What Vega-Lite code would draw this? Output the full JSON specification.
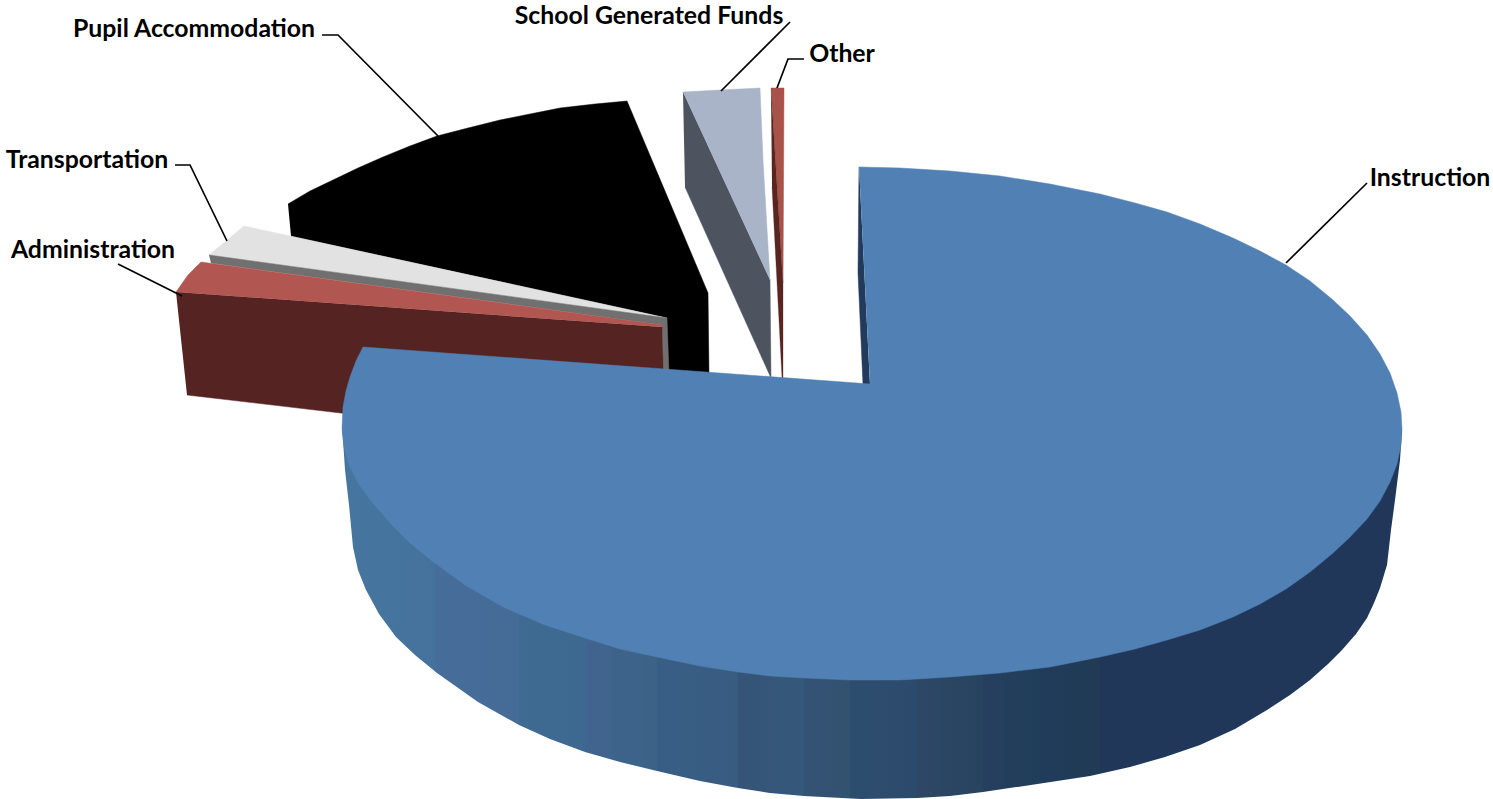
{
"$schema":"https://vega.github.io/schema/vega-lite/v6.json",
"autosize":{"type":"fit","contains":"padding"},
"width":1493,"height":799,"padding":0,
"background":"white",
"config":{"view":{"stroke":null}},
"datasets":{
"outlines":[
{"shape":"pupil","i":0,"x":288,"y":204},{"shape":"pupil","i":1,"x":310,"y":191},{"shape":"pupil","i":2,"x":333,"y":180},{"shape":"pupil","i":3,"x":358,"y":168},{"shape":"pupil","i":4,"x":383,"y":157},{"shape":"pupil","i":5,"x":410,"y":146},{"shape":"pupil","i":6,"x":437,"y":136},{"shape":"pupil","i":7,"x":468,"y":128},{"shape":"pupil","i":8,"x":500,"y":120},{"shape":"pupil","i":9,"x":530,"y":114},{"shape":"pupil","i":10,"x":560,"y":108},{"shape":"pupil","i":11,"x":595,"y":104},{"shape":"pupil","i":12,"x":627,"y":101},{"shape":"pupil","i":13,"x":708,"y":293},{"shape":"pupil","i":14,"x":709,"y":376},{"shape":"pupil","i":15,"x":660,"y":376},{"shape":"pupil","i":16,"x":667,"y":318},{"shape":"pupil","i":17,"x":291,"y":236},
{"shape":"transport_top","i":0,"x":209,"y":255},{"shape":"transport_top","i":1,"x":244,"y":226},{"shape":"transport_top","i":2,"x":667,"y":318},
{"shape":"transport_side","i":0,"x":209,"y":255},{"shape":"transport_side","i":1,"x":667,"y":318},{"shape":"transport_side","i":2,"x":669,"y":374},{"shape":"transport_side","i":3,"x":663,"y":374},{"shape":"transport_side","i":4,"x":662,"y":325},{"shape":"transport_side","i":5,"x":211,"y":263},
{"shape":"admin_side","i":0,"x":176,"y":292},{"shape":"admin_side","i":1,"x":662,"y":327},{"shape":"admin_side","i":2,"x":663,"y":374},{"shape":"admin_side","i":3,"x":400,"y":420},{"shape":"admin_side","i":4,"x":187,"y":395},
{"shape":"admin_top","i":0,"x":176,"y":292},{"shape":"admin_top","i":1,"x":188,"y":275},{"shape":"admin_top","i":2,"x":201,"y":262},{"shape":"admin_top","i":3,"x":662,"y":325},{"shape":"admin_top","i":4,"x":662,"y":327},
{"shape":"school_side","i":0,"x":683,"y":92},{"shape":"school_side","i":1,"x":770,"y":280},{"shape":"school_side","i":2,"x":771,"y":378},{"shape":"school_side","i":3,"x":685,"y":187},
{"shape":"school_top","i":0,"x":683,"y":92},{"shape":"school_top","i":1,"x":720,"y":90},{"shape":"school_top","i":2,"x":760,"y":88},{"shape":"school_top","i":3,"x":763,"y":160},{"shape":"school_top","i":4,"x":770,"y":280},
{"shape":"other_side","i":0,"x":771,"y":88},{"shape":"other_side","i":1,"x":783,"y":283},{"shape":"other_side","i":2,"x":783,"y":378},{"shape":"other_side","i":3,"x":782,"y":378},{"shape":"other_side","i":4,"x":772,"y":187},
{"shape":"other_top","i":0,"x":771,"y":88},{"shape":"other_top","i":1,"x":784,"y":88},{"shape":"other_top","i":2,"x":783,"y":283},
{"shape":"instruction_cut","i":0,"x":859,"y":167},{"shape":"instruction_cut","i":1,"x":858,"y":273},{"shape":"instruction_cut","i":2,"x":863,"y":385},{"shape":"instruction_cut","i":3,"x":870,"y":385},
{"shape":"instruction_side","i":0,"x":342,"y":430},{"shape":"instruction_side","i":1,"x":343,"y":440},{"shape":"instruction_side","i":2,"x":345,"y":470},{"shape":"instruction_side","i":3,"x":349,"y":505},{"shape":"instruction_side","i":4,"x":353,"y":547},{"shape":"instruction_side","i":5,"x":358,"y":570},{"shape":"instruction_side","i":6,"x":366,"y":590},{"shape":"instruction_side","i":7,"x":379,"y":614},{"shape":"instruction_side","i":8,"x":396,"y":637},{"shape":"instruction_side","i":9,"x":415,"y":655},{"shape":"instruction_side","i":10,"x":437,"y":673},{"shape":"instruction_side","i":11,"x":478,"y":702},{"shape":"instruction_side","i":12,"x":519,"y":725},{"shape":"instruction_side","i":13,"x":550,"y":739},{"shape":"instruction_side","i":14,"x":585,"y":752},{"shape":"instruction_side","i":15,"x":620,"y":762},{"shape":"instruction_side","i":16,"x":657,"y":771},{"shape":"instruction_side","i":17,"x":700,"y":781},{"shape":"instruction_side","i":18,"x":738,"y":788},{"shape":"instruction_side","i":19,"x":770,"y":793},{"shape":"instruction_side","i":20,"x":804,"y":796},{"shape":"instruction_side","i":21,"x":861,"y":799},{"shape":"instruction_side","i":22,"x":917,"y":798},{"shape":"instruction_side","i":23,"x":950,"y":796},{"shape":"instruction_side","i":24,"x":983,"y":792},{"shape":"instruction_side","i":25,"x":1044,"y":783},{"shape":"instruction_side","i":26,"x":1090,"y":776},{"shape":"instruction_side","i":27,"x":1130,"y":767},{"shape":"instruction_side","i":28,"x":1165,"y":757},{"shape":"instruction_side","i":29,"x":1200,"y":745},{"shape":"instruction_side","i":30,"x":1235,"y":729},{"shape":"instruction_side","i":31,"x":1267,"y":710},{"shape":"instruction_side","i":32,"x":1290,"y":695},{"shape":"instruction_side","i":33,"x":1310,"y":680},{"shape":"instruction_side","i":34,"x":1328,"y":664},{"shape":"instruction_side","i":35,"x":1342,"y":650},{"shape":"instruction_side","i":36,"x":1356,"y":634},{"shape":"instruction_side","i":37,"x":1367,"y":618},{"shape":"instruction_side","i":38,"x":1374,"y":603},{"shape":"instruction_side","i":39,"x":1380,"y":588},{"shape":"instruction_side","i":40,"x":1387,"y":565},{"shape":"instruction_side","i":41,"x":1391,"y":530},{"shape":"instruction_side","i":42,"x":1395,"y":500},{"shape":"instruction_side","i":43,"x":1400,"y":460},{"shape":"instruction_side","i":44,"x":1402,"y":430},
{"shape":"instruction_top","i":0,"x":859,"y":167},{"shape":"instruction_top","i":1,"x":900,"y":168},{"shape":"instruction_top","i":2,"x":950,"y":171},{"shape":"instruction_top","i":3,"x":1000,"y":176},{"shape":"instruction_top","i":4,"x":1050,"y":184},{"shape":"instruction_top","i":5,"x":1100,"y":194},{"shape":"instruction_top","i":6,"x":1135,"y":203},{"shape":"instruction_top","i":7,"x":1167,"y":212},{"shape":"instruction_top","i":8,"x":1200,"y":224},{"shape":"instruction_top","i":9,"x":1233,"y":238},{"shape":"instruction_top","i":10,"x":1260,"y":251},{"shape":"instruction_top","i":11,"x":1286,"y":265},{"shape":"instruction_top","i":12,"x":1310,"y":281},{"shape":"instruction_top","i":13,"x":1333,"y":300},{"shape":"instruction_top","i":14,"x":1350,"y":316},{"shape":"instruction_top","i":15,"x":1367,"y":335},{"shape":"instruction_top","i":16,"x":1380,"y":354},{"shape":"instruction_top","i":17,"x":1390,"y":373},{"shape":"instruction_top","i":18,"x":1397,"y":393},{"shape":"instruction_top","i":19,"x":1401,"y":412},{"shape":"instruction_top","i":20,"x":1402,"y":429},{"shape":"instruction_top","i":21,"x":1401,"y":445},{"shape":"instruction_top","i":22,"x":1397,"y":464},{"shape":"instruction_top","i":23,"x":1390,"y":482},{"shape":"instruction_top","i":24,"x":1380,"y":501},{"shape":"instruction_top","i":25,"x":1367,"y":519},{"shape":"instruction_top","i":26,"x":1350,"y":537},{"shape":"instruction_top","i":27,"x":1333,"y":553},{"shape":"instruction_top","i":28,"x":1310,"y":572},{"shape":"instruction_top","i":29,"x":1286,"y":589},{"shape":"instruction_top","i":30,"x":1260,"y":604},{"shape":"instruction_top","i":31,"x":1233,"y":617},{"shape":"instruction_top","i":32,"x":1200,"y":630},{"shape":"instruction_top","i":33,"x":1167,"y":640},{"shape":"instruction_top","i":34,"x":1135,"y":649},{"shape":"instruction_top","i":35,"x":1100,"y":657},{"shape":"instruction_top","i":36,"x":1050,"y":667},{"shape":"instruction_top","i":37,"x":1000,"y":673},{"shape":"instruction_top","i":38,"x":950,"y":677},{"shape":"instruction_top","i":39,"x":900,"y":680},{"shape":"instruction_top","i":40,"x":850,"y":680},{"shape":"instruction_top","i":41,"x":804,"y":678},{"shape":"instruction_top","i":42,"x":770,"y":676},{"shape":"instruction_top","i":43,"x":738,"y":672},{"shape":"instruction_top","i":44,"x":700,"y":666},{"shape":"instruction_top","i":45,"x":657,"y":657},{"shape":"instruction_top","i":46,"x":620,"y":649},{"shape":"instruction_top","i":47,"x":585,"y":638},{"shape":"instruction_top","i":48,"x":545,"y":625},{"shape":"instruction_top","i":49,"x":503,"y":607},{"shape":"instruction_top","i":50,"x":465,"y":585},{"shape":"instruction_top","i":51,"x":432,"y":561},{"shape":"instruction_top","i":52,"x":410,"y":543},{"shape":"instruction_top","i":53,"x":391,"y":524},{"shape":"instruction_top","i":54,"x":371,"y":501},{"shape":"instruction_top","i":55,"x":358,"y":483},{"shape":"instruction_top","i":56,"x":349,"y":465},{"shape":"instruction_top","i":57,"x":344,"y":447},{"shape":"instruction_top","i":58,"x":342,"y":428},{"shape":"instruction_top","i":59,"x":343,"y":407},{"shape":"instruction_top","i":60,"x":346,"y":391},{"shape":"instruction_top","i":61,"x":350,"y":377},{"shape":"instruction_top","i":62,"x":356,"y":361},{"shape":"instruction_top","i":63,"x":363,"y":347},{"shape":"instruction_top","i":64,"x":870,"y":384}
],
"leaders":[
{"label":"Pupil Accommodation","i":0,"x":322,"y":35},{"label":"Pupil Accommodation","i":1,"x":338,"y":35},{"label":"Pupil Accommodation","i":2,"x":438,"y":136},
{"label":"Transportation","i":0,"x":175,"y":165},{"label":"Transportation","i":1,"x":190,"y":165},{"label":"Transportation","i":2,"x":227,"y":241},
{"label":"Administration","i":0,"x":118,"y":264},{"label":"Administration","i":1,"x":182,"y":296},
{"label":"School Generated Funds","i":0,"x":790,"y":22},{"label":"School Generated Funds","i":1,"x":721,"y":91},
{"label":"Other","i":0,"x":804,"y":59},{"label":"Other","i":1,"x":788,"y":59},{"label":"Other","i":2,"x":777,"y":88},
{"label":"Instruction","i":0,"x":1367,"y":183},{"label":"Instruction","i":1,"x":1286,"y":263}
],
"labels":[
{"label":"Pupil Accommodation","x":194,"y":30},
{"label":"Transportation","x":87,"y":161},
{"label":"Administration","x":93,"y":251},
{"label":"School Generated Funds","x":649,"y":17},
{"label":"Other","x":842,"y":55},
{"label":"Instruction","x":1430,"y":179}
]
},
"encoding":{
"x":{"field":"x","type":"quantitative","scale":{"domain":[0,1493],"nice":false,"zero":false},"axis":null},
"y":{"field":"y","type":"quantitative","scale":{"domain":[799,0],"nice":false,"zero":false},"axis":null},
"order":{"field":"i","type":"quantitative"}
},
"layer":[
{"data":{"name":"outlines"},"transform":[{"filter":"datum.shape==='pupil'"}],"mark":{"type":"line","fill":"#000000","stroke":"#000000","strokeWidth":0.5}},
{"data":{"name":"outlines"},"transform":[{"filter":"datum.shape==='transport_top'"}],"mark":{"type":"line","fill":"#e2e2e2","stroke":"#e2e2e2","strokeWidth":0.5}},
{"data":{"name":"outlines"},"transform":[{"filter":"datum.shape==='transport_side'"}],"mark":{"type":"line","fill":"#707070","stroke":"#707070","strokeWidth":0.5}},
{"data":{"name":"outlines"},"transform":[{"filter":"datum.shape==='admin_side'"}],"mark":{"type":"line","fill":"#542322","stroke":"#542322","strokeWidth":0.5}},
{"data":{"name":"outlines"},"transform":[{"filter":"datum.shape==='admin_top'"}],"mark":{"type":"line","fill":"#b25651","stroke":"#b25651","strokeWidth":0.5}},
{"data":{"name":"outlines"},"transform":[{"filter":"datum.shape==='school_side'"}],"mark":{"type":"line","fill":"#4d5460","stroke":"#4d5460","strokeWidth":0.5}},
{"data":{"name":"outlines"},"transform":[{"filter":"datum.shape==='school_top'"}],"mark":{"type":"line","fill":"#a9b4c9","stroke":"#a9b4c9","strokeWidth":0.5}},
{"data":{"name":"outlines"},"transform":[{"filter":"datum.shape==='other_top'"}],"mark":{"type":"line","fill":"#a9524a","stroke":"#a9524a","strokeWidth":0.5}},
{"data":{"name":"outlines"},"transform":[{"filter":"datum.shape==='other_side'"}],"mark":{"type":"line","fill":"#5a2420","stroke":"#5a2420","strokeWidth":0.3}},
{"data":{"name":"outlines"},"transform":[{"filter":"datum.shape==='instruction_cut'"}],"mark":{"type":"line","fill":"#223a5c","stroke":"#223a5c","strokeWidth":0.5}},
{"data":{"name":"outlines"},"transform":[{"filter":"datum.shape==='instruction_side'"}],"mark":{"type":"line","strokeWidth":0,"fill":{"gradient":"linear","x1":0,"y1":0,"x2":1,"y2":0,"stops":[
{"offset":0,"color":"#46769f"},{"offset":0.088,"color":"#44729c"},{"offset":0.088,"color":"#476d9a"},{"offset":0.167,"color":"#446c96"},{"offset":0.167,"color":"#3f6a92"},{"offset":0.229,"color":"#3d688f"},{"offset":0.229,"color":"#416490"},{"offset":0.297,"color":"#3b6386"},{"offset":0.297,"color":"#395e85"},{"offset":0.374,"color":"#385c80"},{"offset":0.374,"color":"#355478"},{"offset":0.436,"color":"#35597a"},{"offset":0.436,"color":"#345274"},{"offset":0.479,"color":"#335270"},{"offset":0.479,"color":"#2d4d6f"},{"offset":0.542,"color":"#2c4a6c"},{"offset":0.542,"color":"#2e4766"},{"offset":0.605,"color":"#27445f"},{"offset":0.605,"color":"#273f5f"},{"offset":0.658,"color":"#1f3e58"},{"offset":0.658,"color":"#203c5a"},{"offset":0.715,"color":"#213b55"},{"offset":0.715,"color":"#21375a"},{"offset":1,"color":"#21375a"}]}}},
{"data":{"name":"outlines"},"transform":[{"filter":"datum.shape==='instruction_top'"}],"mark":{"type":"line","fill":"#5181b4","stroke":"#5181b4","strokeWidth":0.5}},
{"data":{"name":"leaders"},"mark":{"type":"line","stroke":"#000000","strokeWidth":1.7,"strokeCap":"butt"},"encoding":{"detail":{"field":"label"}}},
{"data":{"name":"labels"},"mark":{"type":"text","font":"Lato","fontWeight":"bold","fontSize":24.8,"fill":"#000000","align":"center","baseline":"middle"},"encoding":{"text":{"field":"label"},"order":{"value":null}}}
]
}
